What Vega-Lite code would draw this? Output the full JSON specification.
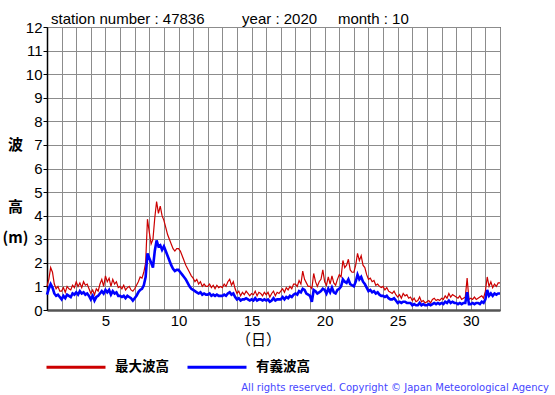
{
  "$schema": "https://vega.github.io/schema/vega-lite/v6.json",
  "width": 453,
  "height": 283,
  "autosize": {"type": "none"},
  "padding": {"left": 47, "top": 27, "right": 55, "bottom": 85},
  "background": "white",
  "config": {"view": {"stroke": "black", "strokeWidth": 1}, "font": "Liberation Sans"},
  "title": {"text": "All rights reserved. Copyright © Japan Meteorological Agency", "orient": "bottom", "anchor": "end", "frame": "group", "font": "DejaVu Sans", "fontSize": 10, "fontWeight": "normal", "color": "#4646ff", "dx": 49, "offset": 9},
  "data": {"values": [
    {"t":1,"a":1.0,"b":0.65},{"t":1.125,"a":1.3,"b":0.9},{"t":1.25,"a":1.8,"b":1.1},{"t":1.375,"a":1.6,"b":0.95},{"t":1.5,"a":1.1,"b":0.7},{"t":1.625,"a":0.9,"b":0.6},{"t":1.75,"a":1.0,"b":0.65},{"t":1.875,"a":0.8,"b":0.55},
    {"t":2,"a":0.8,"b":0.45},{"t":2.125,"a":0.95,"b":0.6},{"t":2.25,"a":0.75,"b":0.5},{"t":2.375,"a":1.0,"b":0.65},{"t":2.5,"a":0.9,"b":0.6},{"t":2.625,"a":0.85,"b":0.55},{"t":2.75,"a":1.05,"b":0.7},{"t":2.875,"a":0.95,"b":0.65},
    {"t":3,"a":1.2,"b":0.75},{"t":3.125,"a":1.0,"b":0.65},{"t":3.25,"a":1.15,"b":0.8},{"t":3.375,"a":0.95,"b":0.7},{"t":3.5,"a":1.2,"b":0.75},{"t":3.625,"a":1.05,"b":0.65},{"t":3.75,"a":1.1,"b":0.7},{"t":3.875,"a":0.9,"b":0.6},
    {"t":4,"a":0.7,"b":0.45},{"t":4.125,"a":0.85,"b":0.6},{"t":4.25,"a":0.65,"b":0.4},{"t":4.375,"a":0.9,"b":0.55},{"t":4.5,"a":0.8,"b":0.6},{"t":4.625,"a":1.1,"b":0.7},{"t":4.75,"a":1.3,"b":0.8},{"t":4.875,"a":1.0,"b":0.7},
    {"t":5,"a":1.45,"b":0.85},{"t":5.125,"a":1.2,"b":0.75},{"t":5.25,"a":1.35,"b":0.85},{"t":5.375,"a":1.0,"b":0.65},{"t":5.5,"a":1.3,"b":0.8},{"t":5.625,"a":1.1,"b":0.7},{"t":5.75,"a":1.2,"b":0.75},{"t":5.875,"a":0.95,"b":0.6},
    {"t":6,"a":1.0,"b":0.6},{"t":6.125,"a":0.9,"b":0.55},{"t":6.25,"a":1.05,"b":0.6},{"t":6.375,"a":0.85,"b":0.5},{"t":6.5,"a":0.95,"b":0.6},{"t":6.625,"a":1.0,"b":0.55},{"t":6.75,"a":0.85,"b":0.5},{"t":6.875,"a":0.8,"b":0.4},
    {"t":7,"a":0.9,"b":0.5},{"t":7.125,"a":1.05,"b":0.6},{"t":7.25,"a":1.2,"b":0.75},{"t":7.375,"a":1.4,"b":0.85},{"t":7.5,"a":1.35,"b":0.9},{"t":7.625,"a":1.6,"b":1.05},{"t":7.75,"a":2.0,"b":1.4},{"t":7.875,"a":3.85,"b":2.4},
    {"t":8,"a":3.3,"b":2.2},{"t":8.125,"a":2.8,"b":2.0},{"t":8.25,"a":3.0,"b":1.8},{"t":8.375,"a":3.9,"b":2.5},{"t":8.5,"a":4.6,"b":2.95},{"t":8.625,"a":4.1,"b":2.7},{"t":8.75,"a":4.4,"b":2.75},{"t":8.875,"a":4.0,"b":2.55},
    {"t":9,"a":3.8,"b":2.7},{"t":9.125,"a":3.5,"b":2.5},{"t":9.25,"a":3.2,"b":2.3},{"t":9.375,"a":3.0,"b":2.1},{"t":9.5,"a":2.8,"b":1.9},{"t":9.625,"a":2.6,"b":1.75},{"t":9.75,"a":2.5,"b":1.65},{"t":9.875,"a":2.6,"b":1.7},
    {"t":10,"a":2.6,"b":1.7},{"t":10.125,"a":2.5,"b":1.6},{"t":10.25,"a":2.3,"b":1.5},{"t":10.375,"a":2.1,"b":1.4},{"t":10.5,"a":1.9,"b":1.3},{"t":10.625,"a":1.75,"b":1.15},{"t":10.75,"a":1.6,"b":1.0},{"t":10.875,"a":1.45,"b":0.9},
    {"t":11,"a":1.35,"b":0.85},{"t":11.125,"a":1.2,"b":0.8},{"t":11.25,"a":1.3,"b":0.75},{"t":11.375,"a":1.1,"b":0.7},{"t":11.5,"a":1.2,"b":0.75},{"t":11.625,"a":1.0,"b":0.65},{"t":11.75,"a":1.1,"b":0.7},{"t":11.875,"a":1.0,"b":0.65},
    {"t":12,"a":1.0,"b":0.65},{"t":12.125,"a":1.1,"b":0.7},{"t":12.25,"a":0.95,"b":0.6},{"t":12.375,"a":1.05,"b":0.65},{"t":12.5,"a":0.9,"b":0.6},{"t":12.625,"a":1.05,"b":0.65},{"t":12.75,"a":0.95,"b":0.6},{"t":12.875,"a":1.0,"b":0.6},
    {"t":13,"a":0.95,"b":0.6},{"t":13.125,"a":1.1,"b":0.65},{"t":13.25,"a":1.0,"b":0.6},{"t":13.375,"a":1.2,"b":0.7},{"t":13.5,"a":1.3,"b":0.75},{"t":13.625,"a":1.05,"b":0.65},{"t":13.75,"a":1.2,"b":0.7},{"t":13.875,"a":0.9,"b":0.55},
    {"t":14,"a":0.7,"b":0.45},{"t":14.125,"a":0.8,"b":0.5},{"t":14.25,"a":0.6,"b":0.4},{"t":14.375,"a":0.75,"b":0.45},{"t":14.5,"a":0.65,"b":0.45},{"t":14.625,"a":0.8,"b":0.5},{"t":14.75,"a":0.7,"b":0.45},{"t":14.875,"a":0.6,"b":0.4},
    {"t":15,"a":0.7,"b":0.45},{"t":15.125,"a":0.65,"b":0.4},{"t":15.25,"a":0.8,"b":0.5},{"t":15.375,"a":0.6,"b":0.4},{"t":15.5,"a":0.75,"b":0.45},{"t":15.625,"a":0.7,"b":0.45},{"t":15.75,"a":0.6,"b":0.4},{"t":15.875,"a":0.75,"b":0.45},
    {"t":16,"a":0.65,"b":0.4},{"t":16.125,"a":0.75,"b":0.45},{"t":16.25,"a":0.55,"b":0.35},{"t":16.375,"a":0.7,"b":0.4},{"t":16.5,"a":0.8,"b":0.5},{"t":16.625,"a":0.6,"b":0.4},{"t":16.75,"a":0.75,"b":0.45},{"t":16.875,"a":0.7,"b":0.45},
    {"t":17,"a":0.8,"b":0.45},{"t":17.125,"a":0.9,"b":0.55},{"t":17.25,"a":0.75,"b":0.45},{"t":17.375,"a":0.95,"b":0.55},{"t":17.5,"a":0.85,"b":0.5},{"t":17.625,"a":1.0,"b":0.6},{"t":17.75,"a":0.9,"b":0.55},{"t":17.875,"a":1.1,"b":0.65},
    {"t":18,"a":1.1,"b":0.7},{"t":18.125,"a":1.0,"b":0.65},{"t":18.25,"a":1.25,"b":0.8},{"t":18.375,"a":1.1,"b":0.75},{"t":18.5,"a":1.65,"b":0.9},{"t":18.625,"a":1.3,"b":0.85},{"t":18.75,"a":1.15,"b":0.7},{"t":18.875,"a":1.0,"b":0.65},
    {"t":19,"a":1.0,"b":0.6},{"t":19.125,"a":0.9,"b":0.35},{"t":19.25,"a":1.55,"b":0.85},{"t":19.375,"a":1.2,"b":0.8},{"t":19.5,"a":1.0,"b":0.7},{"t":19.625,"a":1.2,"b":0.75},{"t":19.75,"a":1.3,"b":0.8},{"t":19.875,"a":1.7,"b":0.9},
    {"t":20,"a":1.2,"b":0.85},{"t":20.125,"a":1.05,"b":0.7},{"t":20.25,"a":1.4,"b":0.9},{"t":20.375,"a":1.1,"b":0.75},{"t":20.5,"a":1.45,"b":0.95},{"t":20.625,"a":1.15,"b":0.75},{"t":20.75,"a":1.05,"b":0.7},{"t":20.875,"a":1.3,"b":0.85},
    {"t":21,"a":1.5,"b":0.9},{"t":21.125,"a":1.4,"b":1.0},{"t":21.25,"a":2.1,"b":1.3},{"t":21.375,"a":1.8,"b":1.2},{"t":21.5,"a":1.9,"b":1.15},{"t":21.625,"a":2.15,"b":1.3},{"t":21.75,"a":1.7,"b":1.1},{"t":21.875,"a":1.6,"b":1.05},
    {"t":22,"a":1.6,"b":1.0},{"t":22.125,"a":1.9,"b":1.2},{"t":22.25,"a":2.4,"b":1.5},{"t":22.375,"a":2.1,"b":1.3},{"t":22.5,"a":2.3,"b":1.4},{"t":22.625,"a":1.9,"b":1.2},{"t":22.75,"a":1.8,"b":1.1},{"t":22.875,"a":1.5,"b":0.95},
    {"t":23,"a":1.3,"b":0.8},{"t":23.125,"a":1.35,"b":0.85},{"t":23.25,"a":1.2,"b":0.75},{"t":23.375,"a":1.25,"b":0.8},{"t":23.5,"a":1.05,"b":0.7},{"t":23.625,"a":1.1,"b":0.75},{"t":23.75,"a":1.0,"b":0.65},{"t":23.875,"a":0.95,"b":0.6},
    {"t":24,"a":1.0,"b":0.6},{"t":24.125,"a":0.85,"b":0.55},{"t":24.25,"a":0.95,"b":0.6},{"t":24.375,"a":0.8,"b":0.5},{"t":24.5,"a":0.75,"b":0.45},{"t":24.625,"a":0.7,"b":0.45},{"t":24.75,"a":0.8,"b":0.5},{"t":24.875,"a":0.65,"b":0.4},
    {"t":25,"a":0.55,"b":0.3},{"t":25.125,"a":0.65,"b":0.35},{"t":25.25,"a":0.5,"b":0.3},{"t":25.375,"a":0.7,"b":0.35},{"t":25.5,"a":0.6,"b":0.35},{"t":25.625,"a":0.65,"b":0.3},{"t":25.75,"a":0.5,"b":0.3},{"t":25.875,"a":0.55,"b":0.3},
    {"t":26,"a":0.4,"b":0.2},{"t":26.125,"a":0.5,"b":0.25},{"t":26.25,"a":0.35,"b":0.2},{"t":26.375,"a":0.4,"b":0.2},{"t":26.5,"a":0.55,"b":0.3},{"t":26.625,"a":0.35,"b":0.2},{"t":26.75,"a":0.4,"b":0.25},{"t":26.875,"a":0.3,"b":0.2},
    {"t":27,"a":0.35,"b":0.2},{"t":27.125,"a":0.4,"b":0.25},{"t":27.25,"a":0.3,"b":0.2},{"t":27.375,"a":0.45,"b":0.25},{"t":27.5,"a":0.5,"b":0.3},{"t":27.625,"a":0.4,"b":0.25},{"t":27.75,"a":0.45,"b":0.3},{"t":27.875,"a":0.4,"b":0.25},
    {"t":28,"a":0.5,"b":0.3},{"t":28.125,"a":0.45,"b":0.25},{"t":28.25,"a":0.6,"b":0.35},{"t":28.375,"a":0.5,"b":0.3},{"t":28.5,"a":0.7,"b":0.4},{"t":28.625,"a":0.55,"b":0.3},{"t":28.75,"a":0.65,"b":0.35},{"t":28.875,"a":0.6,"b":0.3},
    {"t":29,"a":0.55,"b":0.3},{"t":29.125,"a":0.5,"b":0.25},{"t":29.25,"a":0.6,"b":0.3},{"t":29.375,"a":0.45,"b":0.25},{"t":29.5,"a":0.5,"b":0.3},{"t":29.625,"a":0.55,"b":0.3},{"t":29.75,"a":1.35,"b":0.75},{"t":29.875,"a":0.45,"b":0.25},
    {"t":30,"a":0.5,"b":0.25},{"t":30.125,"a":0.45,"b":0.3},{"t":30.25,"a":0.55,"b":0.25},{"t":30.375,"a":0.45,"b":0.3},{"t":30.5,"a":0.5,"b":0.3},{"t":30.625,"a":0.55,"b":0.25},{"t":30.75,"a":0.6,"b":0.35},{"t":30.875,"a":0.5,"b":0.3},
    {"t":31,"a":0.8,"b":0.45},{"t":31.125,"a":1.4,"b":0.85},{"t":31.25,"a":1.0,"b":0.6},{"t":31.375,"a":1.2,"b":0.7},{"t":31.5,"a":0.95,"b":0.6},{"t":31.625,"a":1.1,"b":0.7},{"t":31.75,"a":1.0,"b":0.65},{"t":31.875,"a":1.15,"b":0.7},
    {"t":32,"a":1.15,"b":0.7}
  ]},
  "transform": [{"fold": ["a", "b"], "as": ["k", "v"]}],
  "encoding": {
    "y": {
      "field": "v", "type": "quantitative",
      "scale": {"domain": [0, 12], "nice": false},
      "axis": {
        "values": [0,1,2,3,4,5,6,7,8,9,10,11,12],
        "title": ["波", "\u200b", "高", "(m)"],
        "titleAngle": 0, "titleX": -32, "titleY": 117, "titleAlign": "center", "titleBaseline": "middle",
        "titleFont": "Noto Sans CJK JP", "titleFontSize": 15, "titleFontWeight": "bold", "titleLineHeight": 31, "titleColor": "black",
        "labelFont": "Liberation Sans", "labelFontSize": 15, "labelColor": "black", "labelPadding": 1, "labelFlush": false, "labelOverlap": false,
        "tickSize": 4, "tickColor": "black", "domainColor": "black", "domainWidth": 1.5,
        "grid": true, "gridColor": "#8c8c8c", "gridWidth": 1, "gridOpacity": 1
      }
    },
    "color": {
      "field": "k", "type": "nominal",
      "scale": {"domain": ["a", "b"], "range": ["#cc0000", "#0000ff"]},
      "legend": {
        "title": null, "orient": "none", "legendX": -2, "legendY": 309, "direction": "horizontal", "columns": 2,
        "symbolType": "stroke", "symbolSize": 3481, "symbolStrokeWidth": 3,
        "labelExpr": "datum.value == 'a' ? '最大波高' : '有義波高'",
        "labelFont": "Noto Sans CJK JP", "labelFontSize": 13.5, "labelFontWeight": "bold", "labelColor": "black",
        "labelOffset": 8, "columnPadding": 12, "padding": 0
      }
    }
  },
  "layer": [
    {
      "transform": [{"filter": "datum.k == 'a'"}],
      "mark": {"type": "line", "strokeWidth": 1.2},
      "encoding": {
        "x": {
          "field": "t", "type": "quantitative",
          "scale": {"domain": [1, 32], "nice": false, "zero": false},
          "axis": {
            "values": [1,2,3,4,5,6,7,8,9,10,11,12,13,14,15,16,17,18,19,20,21,22,23,24,25,26,27,28,29,30,31,32],
            "labelExpr": "datum.value % 5 === 0 ? datum.label : ''",
            "ticks": false, "labelPadding": 3, "labelFont": "Liberation Sans", "labelFontSize": 15, "labelColor": "black",
            "labelFlush": false, "labelOverlap": false,
            "grid": true, "gridColor": "#8c8c8c", "gridWidth": 1, "gridOpacity": 1,
            "domainColor": "#555555", "domainWidth": 2.5,
            "title": "（日）", "titleFont": "Noto Sans CJK JP", "titleFontSize": 15, "titleFontWeight": "normal",
            "titleX": 211, "titleY": 29, "titleBaseline": "middle", "titleAlign": "center", "titleColor": "black"
          }
        }
      }
    },
    {
      "transform": [{"filter": "datum.k == 'b'"}],
      "mark": {"type": "line", "strokeWidth": 2.6},
      "encoding": {
        "x": {
          "field": "t", "type": "quantitative",
          "scale": {"domain": [1, 32], "nice": false, "zero": false},
          "axis": {
            "orient": "top", "labels": false, "ticks": false, "domain": false, "grid": false,
            "title": "station number : 47836\u00a0\u00a0\u00a0\u00a0\u00a0\u00a0\u00a0\u00a0\u00a0year : 2020\u00a0\u00a0\u00a0\u00a0\u00a0month : 10",
            "titleAnchor": "start", "titleAlign": "left", "titleX": 3.6, "titleY": -4, "titleBaseline": "alphabetic",
            "titleFont": "Liberation Sans", "titleFontSize": 15, "titleFontWeight": "normal", "titleColor": "black"
          }
        }
      }
    }
  ],
  "resolve": {"axis": {"x": "independent"}}
}
